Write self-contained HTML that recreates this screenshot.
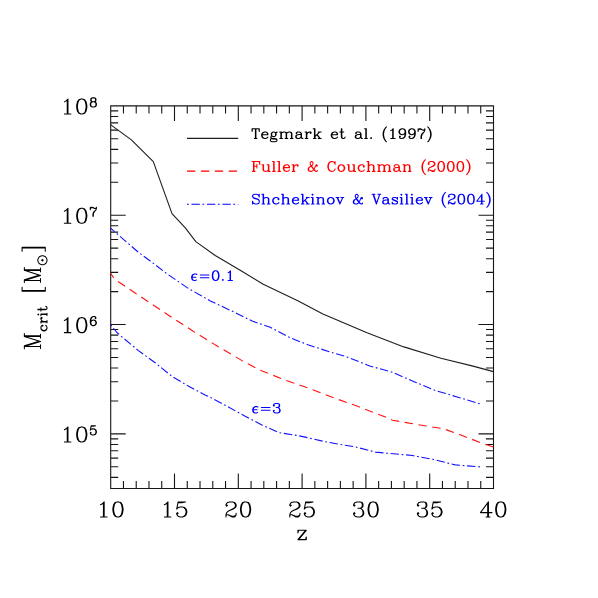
<!DOCTYPE html>
<html><head><meta charset="utf-8"><title>Mcrit vs z</title>
<style>html,body{margin:0;padding:0;width:598px;height:598px;overflow:hidden;background:#fff;font-family:"Liberation Sans",sans-serif}svg{display:block}</style></head>
<body>
<svg width="598" height="598" viewBox="0 0 598 598">
<rect width="598" height="598" fill="#fff"/>
<path d="M110.7 105.9H493.5V488.5H110.7ZM123.46 488.5v-7.5M123.46 105.9v7.5M136.22 488.5v-7.5M136.22 105.9v7.5M148.98 488.5v-7.5M148.98 105.9v7.5M161.74 488.5v-7.5M161.74 105.9v7.5M174.5 488.5v-15M174.5 105.9v15M187.26 488.5v-7.5M187.26 105.9v7.5M200.02 488.5v-7.5M200.02 105.9v7.5M212.78 488.5v-7.5M212.78 105.9v7.5M225.54 488.5v-7.5M225.54 105.9v7.5M238.3 488.5v-15M238.3 105.9v15M251.06 488.5v-7.5M251.06 105.9v7.5M263.82 488.5v-7.5M263.82 105.9v7.5M276.58 488.5v-7.5M276.58 105.9v7.5M289.34 488.5v-7.5M289.34 105.9v7.5M302.1 488.5v-15M302.1 105.9v15M314.86 488.5v-7.5M314.86 105.9v7.5M327.62 488.5v-7.5M327.62 105.9v7.5M340.38 488.5v-7.5M340.38 105.9v7.5M353.14 488.5v-7.5M353.14 105.9v7.5M365.9 488.5v-15M365.9 105.9v15M378.66 488.5v-7.5M378.66 105.9v7.5M391.42 488.5v-7.5M391.42 105.9v7.5M404.18 488.5v-7.5M404.18 105.9v7.5M416.94 488.5v-7.5M416.94 105.9v7.5M429.7 488.5v-15M429.7 105.9v15M442.46 488.5v-7.5M442.46 105.9v7.5M455.22 488.5v-7.5M455.22 105.9v7.5M467.98 488.5v-7.5M467.98 105.9v7.5M480.74 488.5v-7.5M480.74 105.9v7.5M110.7 477.34h7.5M493.5 477.34h-7.5M110.7 466.75h7.5M493.5 466.75h-7.5M110.7 458.09h7.5M493.5 458.09h-7.5M110.7 450.78h7.5M493.5 450.78h-7.5M110.7 444.44h7.5M493.5 444.44h-7.5M110.7 438.84h7.5M493.5 438.84h-7.5M110.7 433.84h15M493.5 433.84h-15M110.7 400.94h7.5M493.5 400.94h-7.5M110.7 381.69h7.5M493.5 381.69h-7.5M110.7 368.03h7.5M493.5 368.03h-7.5M110.7 357.44h7.5M493.5 357.44h-7.5M110.7 348.78h7.5M493.5 348.78h-7.5M110.7 341.46h7.5M493.5 341.46h-7.5M110.7 335.12h7.5M493.5 335.12h-7.5M110.7 329.53h7.5M493.5 329.53h-7.5M110.7 324.53h15M493.5 324.53h-15M110.7 291.62h7.5M493.5 291.62h-7.5M110.7 272.37h7.5M493.5 272.37h-7.5M110.7 258.71h7.5M493.5 258.71h-7.5M110.7 248.12h7.5M493.5 248.12h-7.5M110.7 239.47h7.5M493.5 239.47h-7.5M110.7 232.15h7.5M493.5 232.15h-7.5M110.7 225.81h7.5M493.5 225.81h-7.5M110.7 220.22h7.5M493.5 220.22h-7.5M110.7 215.21h15M493.5 215.21h-15M110.7 182.31h7.5M493.5 182.31h-7.5M110.7 163.06h7.5M493.5 163.06h-7.5M110.7 149.4h7.5M493.5 149.4h-7.5M110.7 138.81h7.5M493.5 138.81h-7.5M110.7 130.15h7.5M493.5 130.15h-7.5M110.7 122.83h7.5M493.5 122.83h-7.5M110.7 116.49h7.5M493.5 116.49h-7.5M110.7 110.9h7.5M493.5 110.9h-7.5" fill="none" stroke="#161616" stroke-width="1.1" stroke-linecap="butt" stroke-linejoin="miter"/>
<path d="M110.5 124.6 131.4 139.9 153.3 161.6 172 213.6 185.3 227.9 195.8 241.6 215.2 255.5 240.2 270.2 262.7 284 297.8 300.8 322.9 314.1 340 321.3 367 332.7 403.9 346.9 440.9 358.3 472.1 365.9 493.4 371.6" fill="none" stroke="#1e1e1e" stroke-width="1.1" stroke-linejoin="round"/>
<path d="M110.7 273.3 113.3 277.4 118.4 281.8 124.4 285.8 140.1 296.3 167.7 314.7 192.8 331 217.9 346.5 242.9 361.1 260.2 370.2 285.2 380.1 310.3 388.8 335.4 398.4 358.4 406.6 386 417.2 392.5 420.2 415.3 424.2 443.7 428.8 460.8 435 480.7 442.7 493.4 447" fill="none" stroke="#ff1212" stroke-width="1.1" stroke-dasharray="8.45 5.53" stroke-dashoffset="2.9"/>
<path d="M110.5 228.1 138.4 252.3 148.9 260 167.7 274.3 187.8 288.1 210.3 300.9 235.4 312.8 252.7 321.3 270.3 327.3 290.3 337.9 307.9 344.7 330 352 347.1 356.9 369.8 366 392.5 372.3 415.3 382.2 435.2 390.4 457.9 397.2 480.2 403.8" fill="none" stroke="#1212ff" stroke-width="1.1" stroke-dasharray="8.4 2.7 1.75 2.65" stroke-dashoffset="2.9"/>
<path d="M110.5 324.9 117.5 333 121.7 336.7 138.4 350.6 155.2 362.8 171.9 376.3 188.6 386.2 205 394.9 211.7 398 228.4 407 245.2 416.3 261.9 424.9 278.6 432.6 295 435.1 302.8 436.6 327.9 442.3 355.6 447 375.5 452.1 412.4 455.5 435.2 459.8 455.1 464.9 480.2 466.9" fill="none" stroke="#1212ff" stroke-width="1.1" stroke-dasharray="8.4 2.7 1.75 2.68" stroke-dashoffset="11.1"/>
<path d="M187 138.4H238.2" fill="none" stroke="#1e1e1e" stroke-width="1.1"/>
<path d="M187 171.1H238.2" fill="none" stroke="#f00" stroke-width="1.1" stroke-dasharray="8.4 5.5"/>
<path d="M187 204.3H238.2" fill="none" stroke="#00f" stroke-width="1.1" stroke-dasharray="1.75 2.7 8.4 2.6"/>
<path d="M255.42 128.72 255.42 138.5M255.9 128.72 255.9 138.5M252.54 128.72 252.06 131.52 252.06 128.72 259.26 128.72 259.26 131.52 258.78 128.72M254.35 138.5 256.97 138.5M262.14 134.78 267.9 134.78 267.9 133.84 267.42 132.91 266.94 132.45 265.98 131.98 264.54 131.98 263.1 132.45 262.14 133.38 261.66 134.78 261.66 135.71 262.14 137.1 263.1 138.03 264.54 138.5 265.5 138.5 266.94 138.03 267.9 137.1M267.42 134.78 267.42 133.38 266.94 132.45M264.54 131.98 263.58 132.45 262.62 133.38 262.14 134.78 262.14 135.71 262.62 137.1 263.58 138.03 264.54 138.5M273.18 131.98 272.22 132.45 271.74 132.91 271.26 133.84 271.26 134.78 271.74 135.71 272.22 136.17 273.18 136.64 274.14 136.64 275.1 136.17 275.58 135.71 276.06 134.78 276.06 133.84 275.58 132.91 275.1 132.45 274.14 131.98 273.18 131.98M272.22 132.45 271.74 133.38 271.74 135.24 272.22 136.17M275.1 136.17 275.58 135.24 275.58 133.38 275.1 132.45M275.58 132.91 276.06 132.45 277.02 131.98 277.02 132.45 276.06 132.45M271.74 135.71 271.26 136.17 270.78 137.1 270.78 137.57 271.26 138.5 272.7 138.97 275.1 138.97 276.54 139.43 277.02 139.9M270.78 137.57 271.26 138.03 272.7 138.5 275.1 138.5 276.54 138.97 277.02 139.9 277.02 140.36 276.54 141.29 275.1 141.76 272.22 141.76 270.78 141.29 270.3 140.36 270.3 139.9 270.78 138.97 272.22 138.5M280.86 131.98 280.86 138.5M281.34 131.98 281.34 138.5M281.34 133.38 282.3 132.45 283.74 131.98 284.7 131.98 286.14 132.45 286.62 133.38 286.62 138.5M284.7 131.98 285.66 132.45 286.14 133.38 286.14 138.5M286.62 133.38 287.58 132.45 289.02 131.98 289.98 131.98 291.42 132.45 291.9 133.38 291.9 138.5M289.98 131.98 290.94 132.45 291.42 133.38 291.42 138.5M279.63 131.98 281.13 131.98M279.79 138.5 282.41 138.5M285.07 138.5 287.69 138.5M290.35 138.5 292.97 138.5M296.7 132.91 296.7 133.38 296.22 133.38 296.22 132.91 296.7 132.45 297.66 131.98 299.58 131.98 300.54 132.45 301.02 132.91 301.5 133.84 301.5 137.1 301.98 138.03 302.46 138.5M301.02 132.91 301.02 137.1 301.5 138.03 302.46 138.5 302.94 138.5M301.02 133.84 300.54 134.31 297.66 134.78 296.22 135.24 295.74 136.17 295.74 137.1 296.22 138.03 297.66 138.5 299.1 138.5 300.06 138.03 301.02 137.1M297.66 134.78 296.7 135.24 296.22 136.17 296.22 137.1 296.7 138.03 297.66 138.5M306.3 131.98 306.3 138.5M306.78 131.98 306.78 138.5M306.78 134.78 307.26 133.38 308.22 132.45 309.18 131.98 310.62 131.98 311.1 132.45 311.1 132.91 310.62 133.38 310.14 132.91 310.62 132.45M305.07 131.98 306.57 131.98M305.23 138.5 307.85 138.5M314.46 128.72 314.46 138.5M314.94 128.72 314.94 138.5M319.74 131.98 314.94 136.64M317.34 134.78 320.22 138.5M316.86 134.78 319.74 138.5M313.23 128.72 314.73 128.72M318.3 131.98 321.18 131.98M313.39 138.5 316.01 138.5M318.3 138.5 321.18 138.5M331.74 134.78 337.5 134.78 337.5 133.84 337.02 132.91 336.54 132.45 335.58 131.98 334.14 131.98 332.7 132.45 331.74 133.38 331.26 134.78 331.26 135.71 331.74 137.1 332.7 138.03 334.14 138.5 335.1 138.5 336.54 138.03 337.5 137.1M337.02 134.78 337.02 133.38 336.54 132.45M334.14 131.98 333.18 132.45 332.22 133.38 331.74 134.78 331.74 135.71 332.22 137.1 333.18 138.03 334.14 138.5M341.34 128.72 341.34 136.64 341.82 138.03 342.78 138.5 343.74 138.5 344.7 138.03 345.18 137.1M341.82 128.72 341.82 136.64 342.3 138.03 342.78 138.5M339.9 131.98 343.74 131.98M356.22 132.91 356.22 133.38 355.74 133.38 355.74 132.91 356.22 132.45 357.18 131.98 359.1 131.98 360.06 132.45 360.54 132.91 361.02 133.84 361.02 137.1 361.5 138.03 361.98 138.5M360.54 132.91 360.54 137.1 361.02 138.03 361.98 138.5 362.46 138.5M360.54 133.84 360.06 134.31 357.18 134.78 355.74 135.24 355.26 136.17 355.26 137.1 355.74 138.03 357.18 138.5 358.62 138.5 359.58 138.03 360.54 137.1M357.18 134.78 356.22 135.24 355.74 136.17 355.74 137.1 356.22 138.03 357.18 138.5M365.82 128.72 365.82 138.5M366.3 128.72 366.3 138.5M364.59 128.72 366.09 128.72M364.75 138.5 367.37 138.5M371.1 137.57 370.62 138.03 371.1 138.5 371.58 138.03 371.1 137.57M386.46 126.86 385.5 127.79 384.54 129.19 383.58 131.05 383.1 133.38 383.1 135.24 383.58 137.57 384.54 139.43 385.5 140.83 386.46 141.76M385.5 127.79 384.54 129.65 384.06 131.05 383.58 133.38 383.58 135.24 384.06 137.57 384.54 138.97 385.5 140.83M390.78 130.58 391.74 130.12 393.18 128.72 393.18 138.5M392.7 129.19 392.7 138.5M390.78 138.5 395.1 138.5M405.18 131.98 404.7 133.38 403.74 134.31 402.3 134.78 401.82 134.78 400.38 134.31 399.42 133.38 398.94 131.98 398.94 131.52 399.42 130.12 400.38 129.19 401.82 128.72 402.78 128.72 404.22 129.19 405.18 130.12 405.66 131.52 405.66 134.31 405.18 136.17 404.7 137.1 403.74 138.03 402.3 138.5 400.86 138.5 399.9 138.03 399.42 137.1 399.42 136.64 399.9 136.17 400.38 136.64 399.9 137.1M401.82 134.78 400.86 134.31 399.9 133.38 399.42 131.98 399.42 131.52 399.9 130.12 400.86 129.19 401.82 128.72M402.78 128.72 403.74 129.19 404.7 130.12 405.18 131.52 405.18 134.31 404.7 136.17 404.22 137.1 403.26 138.03 402.3 138.5M414.78 131.98 414.3 133.38 413.34 134.31 411.9 134.78 411.42 134.78 409.98 134.31 409.02 133.38 408.54 131.98 408.54 131.52 409.02 130.12 409.98 129.19 411.42 128.72 412.38 128.72 413.82 129.19 414.78 130.12 415.26 131.52 415.26 134.31 414.78 136.17 414.3 137.1 413.34 138.03 411.9 138.5 410.46 138.5 409.5 138.03 409.02 137.1 409.02 136.64 409.5 136.17 409.98 136.64 409.5 137.1M411.42 134.78 410.46 134.31 409.5 133.38 409.02 131.98 409.02 131.52 409.5 130.12 410.46 129.19 411.42 128.72M412.38 128.72 413.34 129.19 414.3 130.12 414.78 131.52 414.78 134.31 414.3 136.17 413.82 137.1 412.86 138.03 411.9 138.5M418.14 128.72 418.14 131.52M418.14 130.58 418.62 129.65 419.58 128.72 420.54 128.72 422.94 130.12 423.9 130.12 424.38 129.65 424.86 128.72M418.62 129.65 419.58 129.19 420.54 129.19 422.94 130.12M424.86 128.72 424.86 130.12 424.38 131.52 422.46 133.84 421.98 134.78 421.5 136.17 421.5 138.5M424.38 131.52 421.98 133.84 421.5 134.78 421.02 136.17 421.02 138.5M427.74 126.86 428.7 127.79 429.66 129.19 430.62 131.05 431.1 133.38 431.1 135.24 430.62 137.57 429.66 139.43 428.7 140.83 427.74 141.76M428.7 127.79 429.66 129.65 430.14 131.05 430.62 133.38 430.62 135.24 430.14 137.57 429.66 138.97 428.7 140.83" fill="none" stroke="#000" stroke-width="1.05" stroke-linecap="round" stroke-linejoin="round" />
<path d="M253.5 161.57 253.5 171.35M253.98 161.57 253.98 171.35M256.86 164.37 256.86 168.09M252.06 161.57 259.74 161.57 259.74 164.37 259.26 161.57M253.98 166.23 256.86 166.23M252.43 171.35 255.05 171.35M263.1 164.83 263.1 169.95 263.58 170.88 265.02 171.35 265.98 171.35 267.42 170.88 268.38 169.95M263.58 164.83 263.58 169.95 264.06 170.88 265.02 171.35M268.38 164.83 268.38 171.35M268.86 164.83 268.86 171.35M261.87 164.83 263.37 164.83M267.15 164.83 268.65 164.83M268.59 171.35 270.09 171.35M273.66 161.57 273.66 171.35M274.14 161.57 274.14 171.35M272.43 161.57 273.93 161.57M272.59 171.35 275.21 171.35M278.94 161.57 278.94 171.35M279.42 161.57 279.42 171.35M277.71 161.57 279.21 161.57M277.87 171.35 280.49 171.35M283.74 167.63 289.5 167.63 289.5 166.69 289.02 165.76 288.54 165.3 287.58 164.83 286.14 164.83 284.7 165.3 283.74 166.23 283.26 167.63 283.26 168.56 283.74 169.95 284.7 170.88 286.14 171.35 287.1 171.35 288.54 170.88 289.5 169.95M289.02 167.63 289.02 166.23 288.54 165.3M286.14 164.83 285.18 165.3 284.22 166.23 283.74 167.63 283.74 168.56 284.22 169.95 285.18 170.88 286.14 171.35M293.34 164.83 293.34 171.35M293.82 164.83 293.82 171.35M293.82 167.63 294.3 166.23 295.26 165.3 296.22 164.83 297.66 164.83 298.14 165.3 298.14 165.76 297.66 166.23 297.18 165.76 297.66 165.3M292.11 164.83 293.61 164.83M292.27 171.35 294.89 171.35M316.86 165.3 316.38 165.76 316.86 166.23 317.34 165.76 317.34 165.3 316.86 164.83 316.38 164.83 315.9 165.3 315.42 166.23 314.46 168.56 313.5 169.95 312.54 170.88 311.58 171.35 310.14 171.35 308.7 170.88 308.22 169.95 308.22 168.56 308.7 167.63 311.58 165.76 312.54 164.83 313.02 163.9 313.02 162.97 312.54 162.04 311.58 161.57 310.62 162.04 310.14 162.97 310.14 163.9 310.62 165.3 311.58 166.69 313.98 169.95 314.94 170.88 316.38 171.35 316.86 171.35 317.34 170.88 317.34 170.42M310.14 171.35 309.18 170.88 308.7 169.95 308.7 168.56 309.18 167.63 310.14 166.69M310.14 163.9 310.62 164.83 314.46 169.95 315.42 170.88 316.38 171.35M334.62 162.97 335.1 164.37 335.1 161.57 334.62 162.97 333.66 162.04 332.22 161.57 331.26 161.57 329.82 162.04 328.86 162.97 328.38 163.9 327.9 165.3 327.9 167.63 328.38 169.02 328.86 169.95 329.82 170.88 331.26 171.35 332.22 171.35 333.66 170.88 334.62 169.95 335.1 169.02M331.26 161.57 330.3 162.04 329.34 162.97 328.86 163.9 328.38 165.3 328.38 167.63 328.86 169.02 329.34 169.95 330.3 170.88 331.26 171.35M340.86 164.83 339.42 165.3 338.46 166.23 337.98 167.63 337.98 168.56 338.46 169.95 339.42 170.88 340.86 171.35 341.82 171.35 343.26 170.88 344.22 169.95 344.7 168.56 344.7 167.63 344.22 166.23 343.26 165.3 341.82 164.83 340.86 164.83M340.86 164.83 339.9 165.3 338.94 166.23 338.46 167.63 338.46 168.56 338.94 169.95 339.9 170.88 340.86 171.35M341.82 171.35 342.78 170.88 343.74 169.95 344.22 168.56 344.22 167.63 343.74 166.23 342.78 165.3 341.82 164.83M348.54 164.83 348.54 169.95 349.02 170.88 350.46 171.35 351.42 171.35 352.86 170.88 353.82 169.95M349.02 164.83 349.02 169.95 349.5 170.88 350.46 171.35M353.82 164.83 353.82 171.35M354.3 164.83 354.3 171.35M347.31 164.83 348.81 164.83M352.59 164.83 354.09 164.83M354.03 171.35 355.53 171.35M363.9 166.23 363.42 166.69 363.9 167.16 364.38 166.69 364.38 166.23 363.42 165.3 362.46 164.83 361.02 164.83 359.58 165.3 358.62 166.23 358.14 167.63 358.14 168.56 358.62 169.95 359.58 170.88 361.02 171.35 361.98 171.35 363.42 170.88 364.38 169.95M361.02 164.83 360.06 165.3 359.1 166.23 358.62 167.63 358.62 168.56 359.1 169.95 360.06 170.88 361.02 171.35M368.22 161.57 368.22 171.35M368.7 161.57 368.7 171.35M368.7 166.23 369.66 165.3 371.1 164.83 372.06 164.83 373.5 165.3 373.98 166.23 373.98 171.35M372.06 164.83 373.02 165.3 373.5 166.23 373.5 171.35M366.99 161.57 368.49 161.57M367.15 171.35 369.77 171.35M372.43 171.35 375.05 171.35M378.78 164.83 378.78 171.35M379.26 164.83 379.26 171.35M379.26 166.23 380.22 165.3 381.66 164.83 382.62 164.83 384.06 165.3 384.54 166.23 384.54 171.35M382.62 164.83 383.58 165.3 384.06 166.23 384.06 171.35M384.54 166.23 385.5 165.3 386.94 164.83 387.9 164.83 389.34 165.3 389.82 166.23 389.82 171.35M387.9 164.83 388.86 165.3 389.34 166.23 389.34 171.35M377.55 164.83 379.05 164.83M377.71 171.35 380.33 171.35M382.99 171.35 385.61 171.35M388.27 171.35 390.89 171.35M394.62 165.76 394.62 166.23 394.14 166.23 394.14 165.76 394.62 165.3 395.58 164.83 397.5 164.83 398.46 165.3 398.94 165.76 399.42 166.69 399.42 169.95 399.9 170.88 400.38 171.35M398.94 165.76 398.94 169.95 399.42 170.88 400.38 171.35 400.86 171.35M398.94 166.69 398.46 167.16 395.58 167.63 394.14 168.09 393.66 169.02 393.66 169.95 394.14 170.88 395.58 171.35 397.02 171.35 397.98 170.88 398.94 169.95M395.58 167.63 394.62 168.09 394.14 169.02 394.14 169.95 394.62 170.88 395.58 171.35M404.22 164.83 404.22 171.35M404.7 164.83 404.7 171.35M404.7 166.23 405.66 165.3 407.1 164.83 408.06 164.83 409.5 165.3 409.98 166.23 409.98 171.35M408.06 164.83 409.02 165.3 409.5 166.23 409.5 171.35M402.99 164.83 404.49 164.83M403.15 171.35 405.77 171.35M408.43 171.35 411.05 171.35M425.34 159.71 424.38 160.64 423.42 162.04 422.46 163.9 421.98 166.23 421.98 168.09 422.46 170.42 423.42 172.28 424.38 173.68 425.34 174.61M424.38 160.64 423.42 162.5 422.94 163.9 422.46 166.23 422.46 168.09 422.94 170.42 423.42 171.82 424.38 173.68M428.7 163.43 429.18 163.9 428.7 164.37 428.22 163.9 428.22 163.43 428.7 162.5 429.18 162.04 430.62 161.57 432.54 161.57 433.98 162.04 434.46 162.5 434.94 163.43 434.94 164.37 434.46 165.3 433.02 166.23 430.62 167.16 429.66 167.63 428.7 168.56 428.22 169.95 428.22 171.35M432.54 161.57 433.5 162.04 433.98 162.5 434.46 163.43 434.46 164.37 433.98 165.3 432.54 166.23 430.62 167.16M428.22 170.42 428.7 169.95 429.66 169.95 432.06 170.88 433.5 170.88 434.46 170.42 434.94 169.95M429.66 169.95 432.06 171.35 433.98 171.35 434.46 170.88 434.94 169.95 434.94 169.02M440.7 161.57 439.26 162.04 438.3 163.43 437.82 165.76 437.82 167.16 438.3 169.49 439.26 170.88 440.7 171.35 441.66 171.35 443.1 170.88 444.06 169.49 444.54 167.16 444.54 165.76 444.06 163.43 443.1 162.04 441.66 161.57 440.7 161.57M440.7 161.57 439.74 162.04 439.26 162.5 438.78 163.43 438.3 165.76 438.3 167.16 438.78 169.49 439.26 170.42 439.74 170.88 440.7 171.35M441.66 171.35 442.62 170.88 443.1 170.42 443.58 169.49 444.06 167.16 444.06 165.76 443.58 163.43 443.1 162.5 442.62 162.04 441.66 161.57M450.3 161.57 448.86 162.04 447.9 163.43 447.42 165.76 447.42 167.16 447.9 169.49 448.86 170.88 450.3 171.35 451.26 171.35 452.7 170.88 453.66 169.49 454.14 167.16 454.14 165.76 453.66 163.43 452.7 162.04 451.26 161.57 450.3 161.57M450.3 161.57 449.34 162.04 448.86 162.5 448.38 163.43 447.9 165.76 447.9 167.16 448.38 169.49 448.86 170.42 449.34 170.88 450.3 171.35M451.26 171.35 452.22 170.88 452.7 170.42 453.18 169.49 453.66 167.16 453.66 165.76 453.18 163.43 452.7 162.5 452.22 162.04 451.26 161.57M459.9 161.57 458.46 162.04 457.5 163.43 457.02 165.76 457.02 167.16 457.5 169.49 458.46 170.88 459.9 171.35 460.86 171.35 462.3 170.88 463.26 169.49 463.74 167.16 463.74 165.76 463.26 163.43 462.3 162.04 460.86 161.57 459.9 161.57M459.9 161.57 458.94 162.04 458.46 162.5 457.98 163.43 457.5 165.76 457.5 167.16 457.98 169.49 458.46 170.42 458.94 170.88 459.9 171.35M460.86 171.35 461.82 170.88 462.3 170.42 462.78 169.49 463.26 167.16 463.26 165.76 462.78 163.43 462.3 162.5 461.82 162.04 460.86 161.57M466.62 159.71 467.58 160.64 468.54 162.04 469.5 163.9 469.98 166.23 469.98 168.09 469.5 170.42 468.54 172.28 467.58 173.68 466.62 174.61M467.58 160.64 468.54 162.5 469.02 163.9 469.5 166.23 469.5 168.09 469.02 170.42 468.54 171.82 467.58 173.68" fill="none" stroke="#f00" stroke-width="1.05" stroke-linecap="round" stroke-linejoin="round" />
<path d="M258.78 195.62 259.26 194.22 259.26 197.02 258.78 195.62 257.82 194.69 256.38 194.22 254.94 194.22 253.5 194.69 252.54 195.62 252.54 196.55 253.02 197.48 253.5 197.95 254.46 198.41 257.34 199.34 258.3 199.81 259.26 200.74M252.54 196.55 253.5 197.48 254.46 197.95 257.34 198.88 258.3 199.34 258.78 199.81 259.26 200.74 259.26 202.6 258.3 203.53 256.86 204 255.42 204 253.98 203.53 253.02 202.6 252.54 201.21 252.54 204 253.02 202.6M263.1 194.22 263.1 204M263.58 194.22 263.58 204M263.58 198.88 264.54 197.95 265.98 197.48 266.94 197.48 268.38 197.95 268.86 198.88 268.86 204M266.94 197.48 267.9 197.95 268.38 198.88 268.38 204M261.87 194.22 263.37 194.22M262.03 204 264.65 204M267.31 204 269.93 204M278.46 198.88 277.98 199.34 278.46 199.81 278.94 199.34 278.94 198.88 277.98 197.95 277.02 197.48 275.58 197.48 274.14 197.95 273.18 198.88 272.7 200.28 272.7 201.21 273.18 202.6 274.14 203.53 275.58 204 276.54 204 277.98 203.53 278.94 202.6M275.58 197.48 274.62 197.95 273.66 198.88 273.18 200.28 273.18 201.21 273.66 202.6 274.62 203.53 275.58 204M282.78 194.22 282.78 204M283.26 194.22 283.26 204M283.26 198.88 284.22 197.95 285.66 197.48 286.62 197.48 288.06 197.95 288.54 198.88 288.54 204M286.62 197.48 287.58 197.95 288.06 198.88 288.06 204M281.55 194.22 283.05 194.22M281.71 204 284.33 204M286.99 204 289.61 204M292.86 200.28 298.62 200.28 298.62 199.34 298.14 198.41 297.66 197.95 296.7 197.48 295.26 197.48 293.82 197.95 292.86 198.88 292.38 200.28 292.38 201.21 292.86 202.6 293.82 203.53 295.26 204 296.22 204 297.66 203.53 298.62 202.6M298.14 200.28 298.14 198.88 297.66 197.95M295.26 197.48 294.3 197.95 293.34 198.88 292.86 200.28 292.86 201.21 293.34 202.6 294.3 203.53 295.26 204M302.46 194.22 302.46 204M302.94 194.22 302.94 204M307.74 197.48 302.94 202.14M305.34 200.28 308.22 204M304.86 200.28 307.74 204M301.23 194.22 302.73 194.22M306.3 197.48 309.18 197.48M301.39 204 304.01 204M306.3 204 309.18 204M312.54 194.22 312.06 194.69 312.54 195.15 313.02 194.69 312.54 194.22M312.54 197.48 312.54 204M313.02 197.48 313.02 204M311.31 197.48 312.81 197.48M311.47 204 314.09 204M317.82 197.48 317.82 204M318.3 197.48 318.3 204M318.3 198.88 319.26 197.95 320.7 197.48 321.66 197.48 323.1 197.95 323.58 198.88 323.58 204M321.66 197.48 322.62 197.95 323.1 198.88 323.1 204M316.59 197.48 318.09 197.48M316.75 204 319.37 204M322.03 204 324.65 204M330.3 197.48 328.86 197.95 327.9 198.88 327.42 200.28 327.42 201.21 327.9 202.6 328.86 203.53 330.3 204 331.26 204 332.7 203.53 333.66 202.6 334.14 201.21 334.14 200.28 333.66 198.88 332.7 197.95 331.26 197.48 330.3 197.48M330.3 197.48 329.34 197.95 328.38 198.88 327.9 200.28 327.9 201.21 328.38 202.6 329.34 203.53 330.3 204M331.26 204 332.22 203.53 333.18 202.6 333.66 201.21 333.66 200.28 333.18 198.88 332.22 197.95 331.26 197.48M337.02 197.48 339.9 204M337.5 197.48 339.9 203.07M342.78 197.48 339.9 204M336.06 197.48 338.94 197.48M340.86 197.48 343.74 197.48M361.98 197.95 361.5 198.41 361.98 198.88 362.46 198.41 362.46 197.95 361.98 197.48 361.5 197.48 361.02 197.95 360.54 198.88 359.58 201.21 358.62 202.6 357.66 203.53 356.7 204 355.26 204 353.82 203.53 353.34 202.6 353.34 201.21 353.82 200.28 356.7 198.41 357.66 197.48 358.14 196.55 358.14 195.62 357.66 194.69 356.7 194.22 355.74 194.69 355.26 195.62 355.26 196.55 355.74 197.95 356.7 199.34 359.1 202.6 360.06 203.53 361.5 204 361.98 204 362.46 203.53 362.46 203.07M355.26 204 354.3 203.53 353.82 202.6 353.82 201.21 354.3 200.28 355.26 199.34M355.26 196.55 355.74 197.48 359.58 202.6 360.54 203.53 361.5 204M373.02 194.22 376.38 204M373.5 194.22 376.38 202.6M379.74 194.22 376.38 204M372.06 194.22 374.94 194.22M377.82 194.22 380.7 194.22M383.58 198.41 383.58 198.88 383.1 198.88 383.1 198.41 383.58 197.95 384.54 197.48 386.46 197.48 387.42 197.95 387.9 198.41 388.38 199.34 388.38 202.6 388.86 203.53 389.34 204M387.9 198.41 387.9 202.6 388.38 203.53 389.34 204 389.82 204M387.9 199.34 387.42 199.81 384.54 200.28 383.1 200.74 382.62 201.67 382.62 202.6 383.1 203.53 384.54 204 385.98 204 386.94 203.53 387.9 202.6M384.54 200.28 383.58 200.74 383.1 201.67 383.1 202.6 383.58 203.53 384.54 204M397.02 198.41 397.5 197.48 397.5 199.34 397.02 198.41 396.54 197.95 395.58 197.48 393.66 197.48 392.7 197.95 392.22 198.41 392.22 199.34 392.7 199.81 393.66 200.28 396.06 201.21 397.02 201.67 397.5 202.14M392.22 198.88 392.7 199.34 393.66 199.81 396.06 200.74 397.02 201.21 397.5 201.67 397.5 203.07 397.02 203.53 396.06 204 394.14 204 393.18 203.53 392.7 203.07 392.22 202.14 392.22 204 392.7 203.07M401.34 194.22 400.86 194.69 401.34 195.15 401.82 194.69 401.34 194.22M401.34 197.48 401.34 204M401.82 197.48 401.82 204M400.11 197.48 401.61 197.48M400.27 204 402.89 204M406.62 194.22 406.62 204M407.1 194.22 407.1 204M405.39 194.22 406.89 194.22M405.55 204 408.17 204M411.9 194.22 411.42 194.69 411.9 195.15 412.38 194.69 411.9 194.22M411.9 197.48 411.9 204M412.38 197.48 412.38 204M410.67 197.48 412.17 197.48M410.83 204 413.45 204M416.7 200.28 422.46 200.28 422.46 199.34 421.98 198.41 421.5 197.95 420.54 197.48 419.1 197.48 417.66 197.95 416.7 198.88 416.22 200.28 416.22 201.21 416.7 202.6 417.66 203.53 419.1 204 420.06 204 421.5 203.53 422.46 202.6M421.98 200.28 421.98 198.88 421.5 197.95M419.1 197.48 418.14 197.95 417.18 198.88 416.7 200.28 416.7 201.21 417.18 202.6 418.14 203.53 419.1 204M425.34 197.48 428.22 204M425.82 197.48 428.22 203.07M431.1 197.48 428.22 204M424.38 197.48 427.26 197.48M429.18 197.48 432.06 197.48M445.5 192.36 444.54 193.29 443.58 194.69 442.62 196.55 442.14 198.88 442.14 200.74 442.62 203.07 443.58 204.93 444.54 206.33 445.5 207.26M444.54 193.29 443.58 195.15 443.1 196.55 442.62 198.88 442.62 200.74 443.1 203.07 443.58 204.47 444.54 206.33M448.86 196.08 449.34 196.55 448.86 197.02 448.38 196.55 448.38 196.08 448.86 195.15 449.34 194.69 450.78 194.22 452.7 194.22 454.14 194.69 454.62 195.15 455.1 196.08 455.1 197.02 454.62 197.95 453.18 198.88 450.78 199.81 449.82 200.28 448.86 201.21 448.38 202.6 448.38 204M452.7 194.22 453.66 194.69 454.14 195.15 454.62 196.08 454.62 197.02 454.14 197.95 452.7 198.88 450.78 199.81M448.38 203.07 448.86 202.6 449.82 202.6 452.22 203.53 453.66 203.53 454.62 203.07 455.1 202.6M449.82 202.6 452.22 204 454.14 204 454.62 203.53 455.1 202.6 455.1 201.67M460.86 194.22 459.42 194.69 458.46 196.08 457.98 198.41 457.98 199.81 458.46 202.14 459.42 203.53 460.86 204 461.82 204 463.26 203.53 464.22 202.14 464.7 199.81 464.7 198.41 464.22 196.08 463.26 194.69 461.82 194.22 460.86 194.22M460.86 194.22 459.9 194.69 459.42 195.15 458.94 196.08 458.46 198.41 458.46 199.81 458.94 202.14 459.42 203.07 459.9 203.53 460.86 204M461.82 204 462.78 203.53 463.26 203.07 463.74 202.14 464.22 199.81 464.22 198.41 463.74 196.08 463.26 195.15 462.78 194.69 461.82 194.22M470.46 194.22 469.02 194.69 468.06 196.08 467.58 198.41 467.58 199.81 468.06 202.14 469.02 203.53 470.46 204 471.42 204 472.86 203.53 473.82 202.14 474.3 199.81 474.3 198.41 473.82 196.08 472.86 194.69 471.42 194.22 470.46 194.22M470.46 194.22 469.5 194.69 469.02 195.15 468.54 196.08 468.06 198.41 468.06 199.81 468.54 202.14 469.02 203.07 469.5 203.53 470.46 204M471.42 204 472.38 203.53 472.86 203.07 473.34 202.14 473.82 199.81 473.82 198.41 473.34 196.08 472.86 195.15 472.38 194.69 471.42 194.22M481.5 195.15 481.5 204M481.98 194.22 481.98 204M481.98 194.22 476.7 201.21 484.38 201.21M480.43 204 483.05 204M486.78 192.36 487.74 193.29 488.7 194.69 489.66 196.55 490.14 198.88 490.14 200.74 489.66 203.07 488.7 204.93 487.74 206.33 486.78 207.26M487.74 193.29 488.7 195.15 489.18 196.55 489.66 198.88 489.66 200.74 489.18 203.07 488.7 204.47 487.74 206.33" fill="none" stroke="#00f" stroke-width="1.05" stroke-linecap="round" stroke-linejoin="round" />
<path d="M196.92 274.47 195.96 274.02 194.52 274.02 193.08 274.47 192.12 275.38 191.64 276.75 191.64 278.12 192.12 279.49 192.6 279.94 194.04 280.4 195.48 280.4 196.44 279.94M194.52 274.02 193.56 274.47 192.6 275.38 192.12 276.75 192.12 278.12 192.6 279.49 193.08 279.94 194.04 280.4M192.12 277.21 195.96 277.21M200.28 274.93 208.92 274.93M200.28 277.66 208.92 277.66M215.16 270.82 213.72 271.28 212.76 272.65 212.28 274.93 212.28 276.3 212.76 278.58 213.72 279.94 215.16 280.4 216.12 280.4 217.56 279.94 218.52 278.58 219 276.3 219 274.93 218.52 272.65 217.56 271.28 216.12 270.82 215.16 270.82M215.16 270.82 214.2 271.28 213.72 271.74 213.24 272.65 212.76 274.93 212.76 276.3 213.24 278.58 213.72 279.49 214.2 279.94 215.16 280.4M216.12 280.4 217.08 279.94 217.56 279.49 218.04 278.58 218.52 276.3 218.52 274.93 218.04 272.65 217.56 271.74 217.08 271.28 216.12 270.82M222.84 279.49 222.36 279.94 222.84 280.4 223.32 279.94 222.84 279.49M228.12 272.65 229.08 272.19 230.52 270.82 230.52 280.4M230.04 271.28 230.04 280.4M228.12 280.4 232.44 280.4" fill="none" stroke="#00f" stroke-width="1.05" stroke-linecap="round" stroke-linejoin="round" />
<path d="M258.02 407.07 257.06 406.62 255.62 406.62 254.18 407.07 253.22 407.98 252.74 409.35 252.74 410.72 253.22 412.09 253.7 412.54 255.14 413 256.58 413 257.54 412.54M255.62 406.62 254.66 407.07 253.7 407.98 253.22 409.35 253.22 410.72 253.7 412.09 254.18 412.54 255.14 413M253.22 409.81 257.06 409.81M261.38 407.53 270.02 407.53M261.38 410.26 270.02 410.26M273.86 405.25 274.34 405.7 273.86 406.16 273.38 405.7 273.38 405.25 273.86 404.34 274.34 403.88 275.78 403.42 277.7 403.42 279.14 403.88 279.62 404.79 279.62 406.16 279.14 407.07 277.7 407.53 276.26 407.53M277.7 403.42 278.66 403.88 279.14 404.79 279.14 406.16 278.66 407.07 277.7 407.53M277.7 407.53 278.66 407.98 279.62 408.9 280.1 409.81 280.1 411.18 279.62 412.09 279.14 412.54 277.7 413 275.78 413 274.34 412.54 273.86 412.09 273.38 411.18 273.38 410.72 273.86 410.26 274.34 410.72 273.86 411.18M279.14 408.44 279.62 409.81 279.62 411.18 279.14 412.09 278.66 412.54 277.7 413" fill="none" stroke="#00f" stroke-width="1.05" stroke-linecap="round" stroke-linejoin="round" />
<path d="M100.55 504.76 102 504.05 104.17 501.9 104.17 516.9M103.45 502.62 103.45 516.9M100.55 516.9 107.08 516.9M117.22 501.9 115.05 502.62 113.6 504.76 112.88 508.33 112.88 510.47 113.6 514.04 115.05 516.19 117.22 516.9 118.68 516.9 120.85 516.19 122.3 514.04 123.03 510.47 123.03 508.33 122.3 504.76 120.85 502.62 118.68 501.9 117.22 501.9M117.22 501.9 115.78 502.62 115.05 503.33 114.33 504.76 113.6 508.33 113.6 510.47 114.33 514.04 115.05 515.47 115.78 516.19 117.22 516.9M118.68 516.9 120.12 516.19 120.85 515.47 121.58 514.04 122.3 510.47 122.3 508.33 121.58 504.76 120.85 503.33 120.12 502.62 118.68 501.9" fill="none" stroke="#000" stroke-width="1.05" stroke-linecap="round" stroke-linejoin="round" />
<path d="M164.35 504.76 165.8 504.05 167.97 501.9 167.97 516.9M167.25 502.62 167.25 516.9M164.35 516.9 170.88 516.9M178.12 501.9 176.68 509.04M176.68 509.04 178.12 507.62 180.3 506.9 182.47 506.9 184.65 507.62 186.1 509.04 186.82 511.19 186.82 512.62 186.1 514.76 184.65 516.19 182.47 516.9 180.3 516.9 178.12 516.19 177.4 515.47 176.68 514.04 176.68 513.33 177.4 512.62 178.12 513.33 177.4 514.04M182.47 506.9 183.93 507.62 185.38 509.04 186.1 511.19 186.1 512.62 185.38 514.76 183.93 516.19 182.47 516.9M178.12 501.9 185.38 501.9M178.12 502.62 181.75 502.62 185.38 501.9" fill="none" stroke="#000" stroke-width="1.05" stroke-linecap="round" stroke-linejoin="round" />
<path d="M226.7 504.76 227.43 505.47 226.7 506.19 225.98 505.47 225.98 504.76 226.7 503.33 227.43 502.62 229.6 501.9 232.5 501.9 234.68 502.62 235.4 503.33 236.12 504.76 236.12 506.19 235.4 507.62 233.23 509.04 229.6 510.47 228.15 511.19 226.7 512.62 225.98 514.76 225.98 516.9M232.5 501.9 233.95 502.62 234.68 503.33 235.4 504.76 235.4 506.19 234.68 507.62 232.5 509.04 229.6 510.47M225.98 515.47 226.7 514.76 228.15 514.76 231.78 516.19 233.95 516.19 235.4 515.47 236.12 514.76M228.15 514.76 231.78 516.9 234.68 516.9 235.4 516.19 236.12 514.76 236.12 513.33M244.83 501.9 242.65 502.62 241.2 504.76 240.48 508.33 240.48 510.47 241.2 514.04 242.65 516.19 244.83 516.9 246.28 516.9 248.45 516.19 249.9 514.04 250.62 510.47 250.62 508.33 249.9 504.76 248.45 502.62 246.28 501.9 244.83 501.9M244.83 501.9 243.38 502.62 242.65 503.33 241.93 504.76 241.2 508.33 241.2 510.47 241.93 514.04 242.65 515.47 243.38 516.19 244.83 516.9M246.28 516.9 247.73 516.19 248.45 515.47 249.18 514.04 249.9 510.47 249.9 508.33 249.18 504.76 248.45 503.33 247.73 502.62 246.28 501.9" fill="none" stroke="#000" stroke-width="1.05" stroke-linecap="round" stroke-linejoin="round" />
<path d="M290.5 504.76 291.23 505.47 290.5 506.19 289.78 505.47 289.78 504.76 290.5 503.33 291.23 502.62 293.4 501.9 296.3 501.9 298.48 502.62 299.2 503.33 299.93 504.76 299.93 506.19 299.2 507.62 297.03 509.04 293.4 510.47 291.95 511.19 290.5 512.62 289.78 514.76 289.78 516.9M296.3 501.9 297.75 502.62 298.48 503.33 299.2 504.76 299.2 506.19 298.48 507.62 296.3 509.04 293.4 510.47M289.78 515.47 290.5 514.76 291.95 514.76 295.58 516.19 297.75 516.19 299.2 515.47 299.93 514.76M291.95 514.76 295.58 516.9 298.48 516.9 299.2 516.19 299.93 514.76 299.93 513.33M305.73 501.9 304.28 509.04M304.28 509.04 305.73 507.62 307.9 506.9 310.08 506.9 312.25 507.62 313.7 509.04 314.43 511.19 314.43 512.62 313.7 514.76 312.25 516.19 310.08 516.9 307.9 516.9 305.73 516.19 305 515.47 304.28 514.04 304.28 513.33 305 512.62 305.73 513.33 305 514.04M310.08 506.9 311.53 507.62 312.98 509.04 313.7 511.19 313.7 512.62 312.98 514.76 311.53 516.19 310.08 516.9M305.73 501.9 312.98 501.9M305.73 502.62 309.35 502.62 312.98 501.9" fill="none" stroke="#000" stroke-width="1.05" stroke-linecap="round" stroke-linejoin="round" />
<path d="M354.3 504.76 355.02 505.47 354.3 506.19 353.57 505.47 353.57 504.76 354.3 503.33 355.02 502.62 357.2 501.9 360.1 501.9 362.27 502.62 363 504.05 363 506.19 362.27 507.62 360.1 508.33 357.92 508.33M360.1 501.9 361.55 502.62 362.27 504.05 362.27 506.19 361.55 507.62 360.1 508.33M360.1 508.33 361.55 509.04 363 510.47 363.72 511.9 363.72 514.04 363 515.47 362.27 516.19 360.1 516.9 357.2 516.9 355.02 516.19 354.3 515.47 353.57 514.04 353.57 513.33 354.3 512.62 355.02 513.33 354.3 514.04M362.27 509.76 363 511.9 363 514.04 362.27 515.47 361.55 516.19 360.1 516.9M372.42 501.9 370.25 502.62 368.8 504.76 368.07 508.33 368.07 510.47 368.8 514.04 370.25 516.19 372.42 516.9 373.88 516.9 376.05 516.19 377.5 514.04 378.22 510.47 378.22 508.33 377.5 504.76 376.05 502.62 373.88 501.9 372.42 501.9M372.42 501.9 370.97 502.62 370.25 503.33 369.52 504.76 368.8 508.33 368.8 510.47 369.52 514.04 370.25 515.47 370.97 516.19 372.42 516.9M373.88 516.9 375.32 516.19 376.05 515.47 376.77 514.04 377.5 510.47 377.5 508.33 376.77 504.76 376.05 503.33 375.32 502.62 373.88 501.9" fill="none" stroke="#000" stroke-width="1.05" stroke-linecap="round" stroke-linejoin="round" />
<path d="M418.1 504.76 418.82 505.47 418.1 506.19 417.38 505.47 417.38 504.76 418.1 503.33 418.82 502.62 421 501.9 423.9 501.9 426.07 502.62 426.8 504.05 426.8 506.19 426.07 507.62 423.9 508.33 421.72 508.33M423.9 501.9 425.35 502.62 426.07 504.05 426.07 506.19 425.35 507.62 423.9 508.33M423.9 508.33 425.35 509.04 426.8 510.47 427.52 511.9 427.52 514.04 426.8 515.47 426.07 516.19 423.9 516.9 421 516.9 418.82 516.19 418.1 515.47 417.38 514.04 417.38 513.33 418.1 512.62 418.82 513.33 418.1 514.04M426.07 509.76 426.8 511.9 426.8 514.04 426.07 515.47 425.35 516.19 423.9 516.9M433.32 501.9 431.88 509.04M431.88 509.04 433.32 507.62 435.5 506.9 437.68 506.9 439.85 507.62 441.3 509.04 442.02 511.19 442.02 512.62 441.3 514.76 439.85 516.19 437.68 516.9 435.5 516.9 433.32 516.19 432.6 515.47 431.88 514.04 431.88 513.33 432.6 512.62 433.32 513.33 432.6 514.04M437.68 506.9 439.12 507.62 440.57 509.04 441.3 511.19 441.3 512.62 440.57 514.76 439.12 516.19 437.68 516.9M433.32 501.9 440.57 501.9M433.32 502.62 436.95 502.62 440.57 501.9" fill="none" stroke="#000" stroke-width="1.05" stroke-linecap="round" stroke-linejoin="round" />
<path d="M487.7 503.33 487.7 516.9M488.43 501.9 488.43 516.9M488.43 501.9 480.45 512.62 492.05 512.62M486.08 516.9 490.04 516.9M500.02 501.9 497.85 502.62 496.4 504.76 495.68 508.33 495.68 510.47 496.4 514.04 497.85 516.19 500.02 516.9 501.48 516.9 503.65 516.19 505.1 514.04 505.82 510.47 505.82 508.33 505.1 504.76 503.65 502.62 501.48 501.9 500.02 501.9M500.02 501.9 498.57 502.62 497.85 503.33 497.12 504.76 496.4 508.33 496.4 510.47 497.12 514.04 497.85 515.47 498.57 516.19 500.02 516.9M501.48 516.9 502.93 516.19 503.65 515.47 504.38 514.04 505.1 510.47 505.1 508.33 504.38 504.76 503.65 503.33 502.93 502.62 501.48 501.9" fill="none" stroke="#000" stroke-width="1.05" stroke-linecap="round" stroke-linejoin="round" />
<path d="M305.58 530.34 297.92 539.6M306.28 530.34 298.62 539.6M298.62 530.34 297.92 532.99 297.92 530.34 306.28 530.34M297.92 539.6 306.28 539.6 306.28 536.96 305.58 539.6" fill="none" stroke="#000" stroke-width="1.05" stroke-linecap="round" stroke-linejoin="round" />
<path d="M64.35 429.8 65.8 429.09 67.97 426.95 67.97 441.94M67.25 427.66 67.25 441.94M64.35 441.94 70.88 441.94M81.03 426.95 78.85 427.66 77.4 429.8 76.67 433.37 76.67 435.52 77.4 439.09 78.85 441.23 81.03 441.94 82.47 441.94 84.65 441.23 86.1 439.09 86.83 435.52 86.83 433.37 86.1 429.8 84.65 427.66 82.47 426.95 81.03 426.95M81.03 426.95 79.58 427.66 78.85 428.37 78.12 429.8 77.4 433.37 77.4 435.52 78.12 439.09 78.85 440.51 79.58 441.23 81.03 441.94M82.47 441.94 83.92 441.23 84.65 440.51 85.38 439.09 86.1 435.52 86.1 433.37 85.38 429.8 84.65 428.37 83.92 427.66 82.47 426.95M91.17 425.81 90.31 430.16M90.31 430.16 91.17 429.29 92.48 428.85 93.78 428.85 95.09 429.29 95.96 430.16 96.39 431.46 96.39 432.33 95.96 433.64 95.09 434.51 93.78 434.94 92.48 434.94 91.17 434.51 90.74 434.07 90.31 433.2 90.31 432.77 90.74 432.33 91.17 432.77 90.74 433.2M93.78 428.85 94.66 429.29 95.53 430.16 95.96 431.46 95.96 432.33 95.53 433.64 94.66 434.51 93.78 434.94M91.17 425.81 95.53 425.81M91.17 426.24 93.35 426.24 95.53 425.81" fill="none" stroke="#000" stroke-width="1.05" stroke-linecap="round" stroke-linejoin="round" />
<path d="M64.35 320.49 65.8 319.77 67.97 317.63 67.97 332.63M67.25 318.35 67.25 332.63M64.35 332.63 70.88 332.63M81.03 317.63 78.85 318.35 77.4 320.49 76.67 324.06 76.67 326.2 77.4 329.77 78.85 331.91 81.03 332.63 82.47 332.63 84.65 331.91 86.1 329.77 86.83 326.2 86.83 324.06 86.1 320.49 84.65 318.35 82.47 317.63 81.03 317.63M81.03 317.63 79.58 318.35 78.85 319.06 78.12 320.49 77.4 324.06 77.4 326.2 78.12 329.77 78.85 331.2 79.58 331.91 81.03 332.63M82.47 332.63 83.92 331.91 84.65 331.2 85.38 329.77 86.1 326.2 86.1 324.06 85.38 320.49 84.65 319.06 83.92 318.35 82.47 317.63M95.53 317.8 95.09 318.23 95.53 318.67 95.96 318.23 95.96 317.8 95.53 316.93 94.66 316.49 93.35 316.49 92.05 316.93 91.17 317.8 90.74 318.67 90.31 320.41 90.31 323.02 90.74 324.32 91.61 325.19 92.91 325.63 93.78 325.63 95.09 325.19 95.96 324.32 96.39 323.02 96.39 322.58 95.96 321.28 95.09 320.41 93.78 319.97 93.35 319.97 92.05 320.41 91.17 321.28 90.74 322.58M93.35 316.49 92.48 316.93 91.61 317.8 91.17 318.67 90.74 320.41 90.74 323.02 91.17 324.32 92.05 325.19 92.91 325.63M93.78 325.63 94.66 325.19 95.53 324.32 95.96 323.02 95.96 322.58 95.53 321.28 94.66 320.41 93.78 319.97" fill="none" stroke="#000" stroke-width="1.05" stroke-linecap="round" stroke-linejoin="round" />
<path d="M64.35 211.17 65.8 210.46 67.97 208.32 67.97 223.31M67.25 209.03 67.25 223.31M64.35 223.31 70.88 223.31M81.03 208.32 78.85 209.03 77.4 211.17 76.67 214.74 76.67 216.89 77.4 220.46 78.85 222.6 81.03 223.31 82.47 223.31 84.65 222.6 86.1 220.46 86.83 216.89 86.83 214.74 86.1 211.17 84.65 209.03 82.47 208.32 81.03 208.32M81.03 208.32 79.58 209.03 78.85 209.75 78.12 211.17 77.4 214.74 77.4 216.89 78.12 220.46 78.85 221.89 79.58 222.6 81.03 223.31M82.47 223.31 83.92 222.6 84.65 221.89 85.38 220.46 86.1 216.89 86.1 214.74 85.38 211.17 84.65 209.75 83.92 209.03 82.47 208.32M90.31 207.18 90.31 209.79M90.31 208.92 90.74 208.05 91.61 207.18 92.48 207.18 94.66 208.48 95.53 208.48 95.96 208.05 96.39 207.18M90.74 208.05 91.61 207.61 92.48 207.61 94.66 208.48M96.39 207.18 96.39 208.48 95.96 209.79 94.22 211.96 93.78 212.83 93.35 214.14 93.35 216.31M95.96 209.79 93.78 211.96 93.35 212.83 92.91 214.14 92.91 216.31" fill="none" stroke="#000" stroke-width="1.05" stroke-linecap="round" stroke-linejoin="round" />
<path d="M64.35 101.86 65.8 101.15 67.97 99 67.97 114M67.25 99.72 67.25 114M64.35 114 70.88 114M81.03 99 78.85 99.72 77.4 101.86 76.67 105.43 76.67 107.57 77.4 111.14 78.85 113.29 81.03 114 82.47 114 84.65 113.29 86.1 111.14 86.83 107.57 86.83 105.43 86.1 101.86 84.65 99.72 82.47 99 81.03 99M81.03 99 79.58 99.72 78.85 100.43 78.12 101.86 77.4 105.43 77.4 107.57 78.12 111.14 78.85 112.57 79.58 113.29 81.03 114M82.47 114 83.92 113.29 84.65 112.57 85.38 111.14 86.1 107.57 86.1 105.43 85.38 101.86 84.65 100.43 83.92 99.72 82.47 99M92.48 97.87 91.17 98.3 90.74 99.17 90.74 100.47 91.17 101.34 92.48 101.78 94.22 101.78 95.53 101.34 95.96 100.47 95.96 99.17 95.53 98.3 94.22 97.87 92.48 97.87M92.48 97.87 91.61 98.3 91.17 99.17 91.17 100.47 91.61 101.34 92.48 101.78M94.22 101.78 95.09 101.34 95.53 100.47 95.53 99.17 95.09 98.3 94.22 97.87M92.48 101.78 91.17 102.22 90.74 102.65 90.31 103.52 90.31 105.26 90.74 106.13 91.17 106.56 92.48 107 94.22 107 95.53 106.56 95.96 106.13 96.39 105.26 96.39 103.52 95.96 102.65 95.53 102.22 94.22 101.78M92.48 101.78 91.61 102.22 91.17 102.65 90.74 103.52 90.74 105.26 91.17 106.13 91.61 106.56 92.48 107M94.22 107 95.09 106.56 95.53 106.13 95.96 105.26 95.96 103.52 95.53 102.65 95.09 102.22 94.22 101.78" fill="none" stroke="#000" stroke-width="1.05" stroke-linecap="round" stroke-linejoin="round" />
<path d="M24.36 346.51 40.5 346.51M24.36 345.8 38.19 341.5M24.36 346.51 40.5 341.5M24.36 336.48 40.5 341.5M24.36 336.48 40.5 336.48M24.36 335.76 40.5 335.76M24.36 348.67 24.36 345.8M24.36 336.48 24.36 333.61M40.5 348.38 40.5 344.65M40.5 337.98 40.5 334.25M42.22 325.72 42.65 326.15 43.09 325.72 42.65 325.29 42.22 325.29 41.34 326.15 40.91 327.01 40.91 328.3 41.34 329.59 42.22 330.45 43.52 330.88 44.39 330.88 45.7 330.45 46.56 329.59 47 328.3 47 327.44 46.56 326.15 45.7 325.29M40.91 328.3 41.34 329.16 42.22 330.02 43.52 330.45 44.39 330.45 45.7 330.02 46.56 329.16 47 328.3M40.91 321.85 47 321.85M40.91 321.42 47 321.42M43.52 321.42 42.22 320.99 41.34 320.13 40.91 319.27 40.91 317.98 41.34 317.55 41.78 317.55 42.22 317.98 41.78 318.41 41.34 317.98M40.91 322.95 40.91 321.61M47 322.81 47 320.46M37.87 314.54 38.3 314.97 38.73 314.54 38.3 314.11 37.87 314.54M40.91 314.54 47 314.54M40.91 314.11 47 314.11M40.91 315.64 40.91 314.29M47 315.49 47 313.15M37.87 309.8 45.26 309.8 46.56 309.37 47 308.51 47 307.65 46.56 306.79 45.7 306.36M37.87 309.37 45.26 309.37 46.56 308.94 47 308.51M40.91 311.09 40.91 307.65M22.08 291.16 45.28 291.16M22.08 290.44 45.28 290.44M22.08 291.16 22.08 287.15M45.28 291.16 45.28 287.15M24.36 280.41 40.5 280.41M24.36 279.69 38.19 275.39M24.36 280.41 40.5 275.39M24.36 270.37 40.5 275.39M24.36 270.37 40.5 270.37M24.36 269.65 40.5 269.65M24.36 282.56 24.36 279.69M24.36 270.37 24.36 267.5M40.5 282.27 40.5 278.54M40.5 271.87 40.5 268.14M37.87 260.9 38.3 262.19 39.17 263.48 40.48 264.34 41.78 264.77 43.09 264.77 44.39 264.34 45.7 263.48 46.57 262.19 47 260.9 47 259.61 46.57 258.32 45.7 257.03 44.39 256.17 43.09 255.74 41.78 255.74 40.48 256.17 39.17 257.03 38.3 258.32 37.87 259.61 37.87 260.9M41.78 260.47 42.22 260.9 42.65 260.9 43.09 260.47 43.09 260.04 42.65 259.61 42.22 259.61 41.78 260.04 41.78 260.47M42.22 260.47 42.65 260.47 42.65 260.04 42.22 260.04 42.22 260.47M42.26 260.26 42.61 260.26M42.43 260.43 42.43 260.08M22.08 248 45.28 248M22.08 247.28 45.28 247.28M22.08 251.29 22.08 247.28M45.28 251.29 45.28 247.28" fill="none" stroke="#000" stroke-width="1.05" stroke-linecap="round" stroke-linejoin="round" />
</svg>
</body></html>
